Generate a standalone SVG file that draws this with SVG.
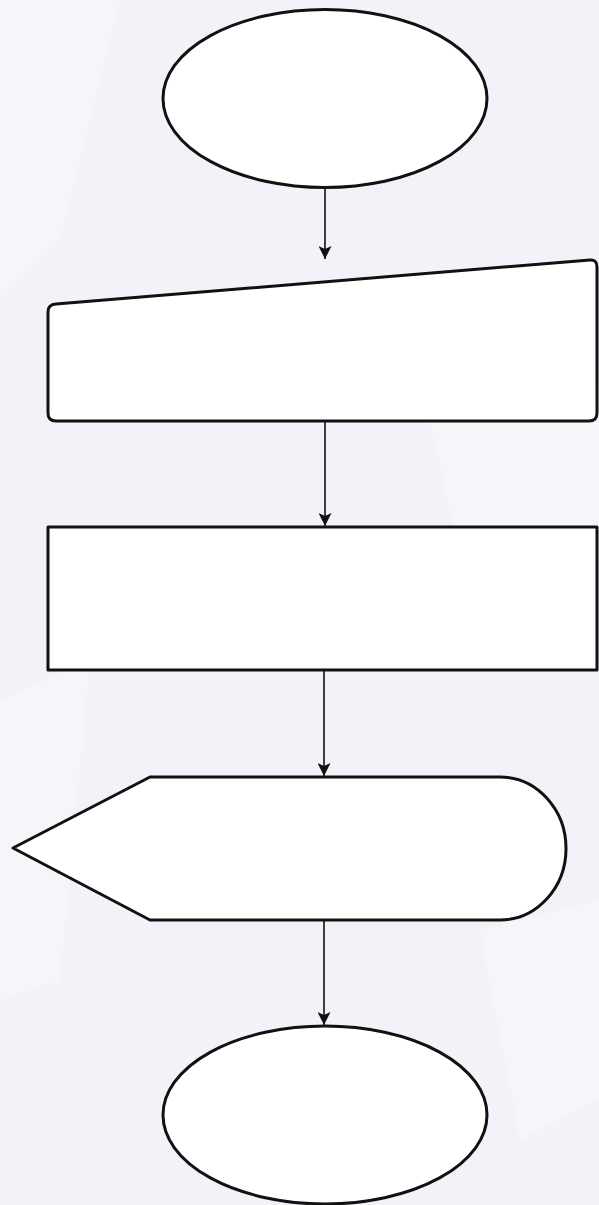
<svg xmlns="http://www.w3.org/2000/svg" width="599" height="1205" viewBox="0 0 599 1205">
<defs>
<style>
.shape{fill:#ffffff;stroke:#111111;stroke-width:3;stroke-linejoin:round}
.conn{stroke:#111111;stroke-width:1.6;fill:none}
</style>
<marker id="arr" viewBox="0 0 13 13" refX="13" refY="6.5" markerWidth="13" markerHeight="13" markerUnits="userSpaceOnUse" orient="auto">
<path d="M0,0 L13,6.5 L0,13 L3,6.5 Z" fill="#111111"/>
</marker>
</defs>
<rect x="0" y="0" width="599" height="1205" fill="#f5f1f8"/>
<g opacity="0.45" fill="#fbfafc">
<polygon points="0,0 120,0 60,240 0,300"/>
<polygon points="430,420 599,380 599,560 470,600"/>
<polygon points="0,700 90,660 60,980 0,1000"/>
<polygon points="480,930 599,900 599,1100 520,1140"/>
</g>
<g id="start">
<ellipse class="shape" cx="325" cy="98.5" rx="162" ry="89"/>
</g>
<g id="input">
<path class="shape" d="M56,304 L590,260 Q597,259.5 597,267 L597,413 Q597,421 589,421 L56,421 Q48,421 48,413 L48,312 Q48,304.5 56,304 Z"/>
</g>
<g id="process">
<rect class="shape" x="48" y="527" width="549" height="143" stroke-linejoin="miter"/>
</g>
<g id="display">
<path class="shape" d="M13,848 L150,777 L500,777 A66,71.5 0 0 1 500,920 L150,920 Z"/>
</g>
<g id="end">
<ellipse class="shape" cx="325" cy="1115" rx="162" ry="89"/>
</g>
<g id="connectors">
<line class="conn" x1="325" y1="188" x2="325" y2="259" marker-end="url(#arr)"/>
<line class="conn" x1="325" y1="422" x2="325" y2="526" marker-end="url(#arr)"/>
<line class="conn" x1="324" y1="671" x2="324" y2="776" marker-end="url(#arr)"/>
<line class="conn" x1="324" y1="921" x2="324" y2="1025" marker-end="url(#arr)"/>
</g>
</svg>
